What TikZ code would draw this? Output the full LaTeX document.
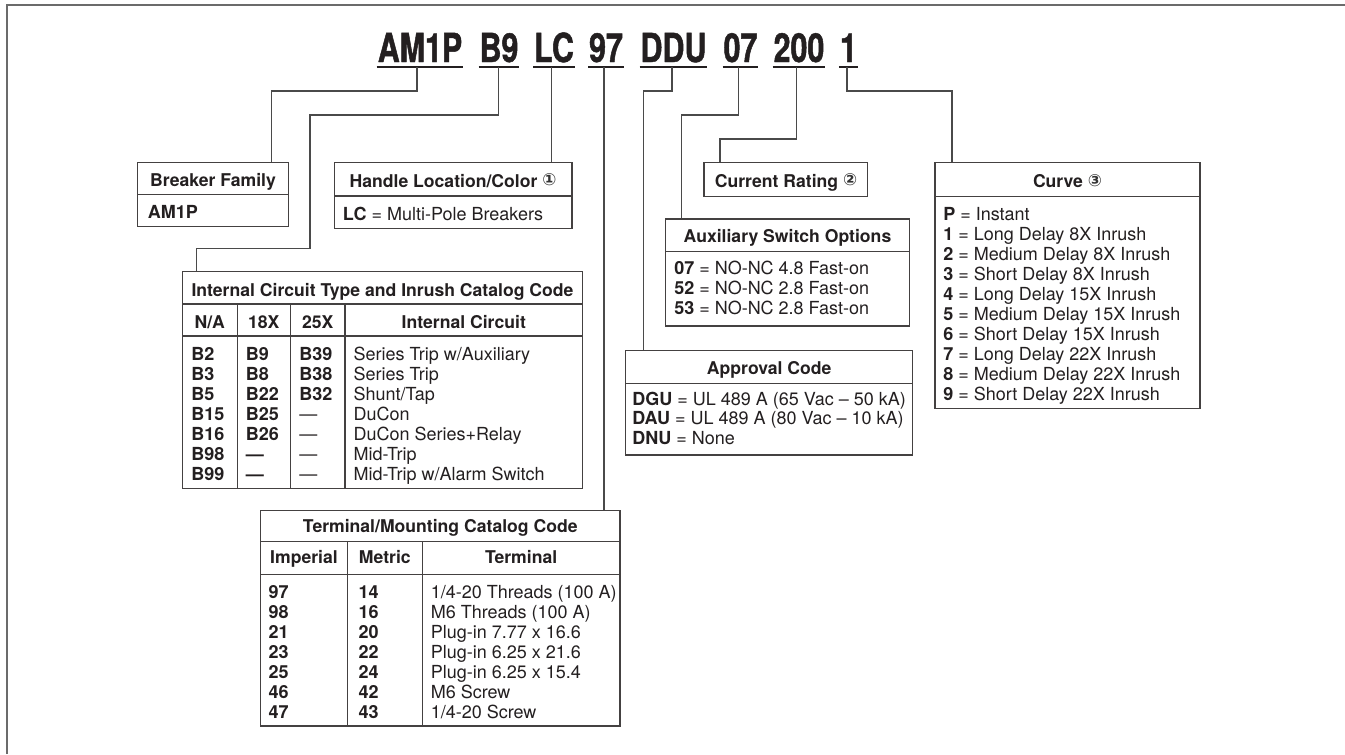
\documentclass[tikz,border=0pt]{standalone}
\usepackage{fontspec}
\setmainfont{TeX Gyre Heros}
\newfontfamily\circfont{DejaVu Sans}
\newfontface\codefont[FakeBold=1.2,FakeStretch=0.76]{texgyreheros-bold.otf}
\usetikzlibrary{fit}
\definecolor{ink}{HTML}{231F20}
\definecolor{linec}{HTML}{4A4A4A}
\definecolor{framec}{HTML}{6B6B6B}
\newcommand\circnum[1]{{\circfont\fontsize{12.5}{12.5}\selectfont\color{black!80}\raisebox{0.8pt}{#1}}}
\begin{document}
\begin{tikzpicture}[x=0.75pt,y=-0.75pt,
  boxn/.style={draw=ink!85, line width=1.1pt, inner sep=0pt},
  conn/.style={draw=linec, line width=1.1pt},
  uline/.style={draw=ink, line width=2.1pt},
  txt/.style={font=\fontsize{13.5}{15}\selectfont, text=ink, inner sep=0pt, anchor=base west},
  ttl/.style={font=\fontsize{13.2}{15}\selectfont\bfseries, text=ink, inner sep=0pt, anchor=base},
  code/.style={font=\codefont\fontsize{30}{30}\selectfont, text=ink, inner sep=0pt, anchor=base}]
\useasboundingbox (0,0) rectangle (1345,754);
% frame
\draw[draw=framec, line width=2pt] (7,754) -- (7,5) -- (1345,5);

% code
\node[code] (k1) at (420,62) {AM1P};
\node[code] (k2) at (499,62) {B9};
\node[code] (k3) at (554,62) {LC};
\node[code] (k4) at (606,62) {97};
\node[code] (k5) at (673.5,62) {DDU};
\node[code] (k6) at (740.5,62) {07};
\node[code] (k7) at (799,62) {200};
\node[code] (k8) at (848.5,62) {1};
\foreach \k in {1,...,8}{
  \draw[uline] ([yshift=-3.75pt,xshift=-0.6pt]k\k.base west) -- ([yshift=-3.75pt,xshift=0.6pt]k\k.base east);
}
\coordinate (u1) at (417,67);
\coordinate (u2) at (498.5,67);
\coordinate (u3) at (551.5,67);
\coordinate (u4) at (604,67);
\coordinate (u5) at (672,67);
\coordinate (u6) at (738.5,67);
\coordinate (u7) at (796.5,67);
\coordinate (u8) at (847,67);

% Breaker family
\node[boxn, fit={(137.7,162.3) (288.3,226.7)}] (bf) {};
\draw[boxn] (137.7,194.3) -- (288.3,194.3);
\node[ttl] (bft) at (213,186) {Breaker Family};
\node[txt] (bfb) at (147.7,218.5) {\textbf{AM1P}};

% Handle location
\node[boxn, fit={(334.3,162.5) (572,228.5)}] (hl) {};
\draw[boxn] (334.3,196) -- (572,196);
\node[ttl] (hlt) at (453,187) {Handle Location/Color \circnum{①}};
\node[txt] (hlb) at (342.7,220) {\textbf{LC} = Multi-Pole Breakers};

% Internal circuit table
\node[boxn, fit={(182.3,271.7) (582.7,488.3)}] (ic) {};
\draw[boxn] (182.3,304) -- (582.7,304);
\draw[boxn] (182.3,336) -- (582.7,336);
\foreach \x in {237.3,290.3,345} \draw[boxn] (\x,304) -- (\x,488.3);
\node[ttl] (ict) at (382.5,296.7) {Internal Circuit Type and Inrush Catalog Code};
\node[ttl] (ich1) at (209.8,328) {N/A};
\node[ttl] (ich2) at (263.8,328) {18X};
\node[ttl] (ich3) at (317.7,328) {25X};
\node[ttl] (ich4) at (463.8,328) {Internal Circuit};
\foreach \a/\b/\c/\d [count=\i from 0] in {
  B2/\textbf{B9}/\textbf{B39}/{Series Trip w/Auxiliary},
  B3/\textbf{B8}/\textbf{B38}/{Series Trip},
  B5/\textbf{B22}/\textbf{B32}/{Shunt/Tap},
  B15/\textbf{B25}/—/{DuCon},
  B16/\textbf{B26}/—/{DuCon Series+Relay},
  B98/\textbf{—}/—/{Mid-Trip},
  B99/\textbf{—}/—/{Mid-Trip w/Alarm Switch}}{
  \node[txt] (ica\i) at (191,{360+20*\i}) {\textbf{\a}};
  \node[txt] (icb\i) at (245.7,{360+20*\i}) {\b};
  \node[txt] (icc\i) at (299,{360+20*\i}) {\c};
  \node[txt] (icd\i) at (353.3,{360+20*\i}) {\d};
}

% Terminal table
\node[boxn, fit={(260.7,510.7) (620,726)}] (tm) {};
\draw[boxn] (260.7,541.7) -- (620,541.7);
\draw[boxn] (260.7,574.3) -- (620,574.3);
\foreach \x in {347.3,422.3} \draw[boxn] (\x,541.7) -- (\x,726);
\node[ttl] (tmt) at (440.3,532.5) {Terminal/Mounting Catalog Code};
\node[ttl] (tmh1) at (304,563) {Imperial};
\node[ttl] (tmh2) at (384.8,563) {Metric};
\node[ttl] (tmh3) at (521.1,563) {Terminal};
\foreach \a/\b/\c [count=\i from 0] in {
  97/14/{1/4-20 Threads (100 A)},
  98/16/{M6 Threads (100 A)},
  21/20/{Plug-in 7.77 x 16.6},
  23/22/{Plug-in 6.25 x 21.6},
  25/24/{Plug-in 6.25 x 15.4},
  46/42/{M6 Screw},
  47/43/{1/4-20 Screw}}{
  \node[txt] (tma\i) at (268.3,{598.3+20*\i}) {\textbf{\a}};
  \node[txt] (tmb\i) at (358.3,{598.3+20*\i}) {\textbf{\b}};
  \node[txt] (tmc\i) at (430.5,{598.3+20*\i}) {\c};
}

% Current rating
\node[boxn, fit={(704,162.3) (867.7,196.7)}] (cr) {};
\node[ttl] (crt) at (786,187) {Current Rating \circnum{②}};

% Auxiliary switch
\node[boxn, fit={(665.7,219) (909.3,326)}] (ax) {};
\draw[boxn] (665.7,251.7) -- (909.3,251.7);
\node[ttl] (axt) at (787.5,242) {Auxiliary Switch Options};
\foreach \a/\b [count=\i from 0] in {07/{NO-NC 4.8 Fast-on},52/{NO-NC 2.8 Fast-on},53/{NO-NC 2.8 Fast-on}}{
  \node[txt] (axb\i) at (674,{274+20*\i}) {\textbf{\a} = \b};
}

% Approval code
\node[boxn, fit={(625.7,350.7) (912.7,455)}] (ap) {};
\draw[boxn] (625.7,383.3) -- (912.7,383.3);
\node[ttl] (apt) at (769.2,374.5) {Approval Code};
\foreach \a/\b [count=\i from 0] in {DGU/{UL 489 A (65 Vac – 50 kA)},DAU/{UL 489 A (80 Vac – 10 kA)},DNU/{None}}{
  \node[txt] (apb\i) at (632,{405+19.5*\i}) {\textbf{\a} = \b};
}

% Curve
\node[boxn, fit={(935,162.3) (1200,408.3)}] (cv) {};
\draw[boxn] (935,196.7) -- (1200,196.7);
\node[ttl] (cvt) at (1067.5,187.3) {Curve \circnum{③}};
\foreach \a/\b [count=\i from 0] in {
  P/{Instant},
  1/{Long Delay 8X Inrush},
  2/{Medium Delay 8X Inrush},
  3/{Short Delay 8X Inrush},
  4/{Long Delay 15X Inrush},
  5/{Medium Delay 15X Inrush},
  6/{Short Delay 15X Inrush},
  7/{Long Delay 22X Inrush},
  8/{Medium Delay 22X Inrush},
  9/{Short Delay 22X Inrush}}{
  \node[txt] (cvb\i) at (943,{220+20*\i}) {\textbf{\a} = \b};
}

% connectors
\draw[conn] (u1) |- (271.7,91) -- (bf.north -| 271.7,91);
\draw[conn] (u2) |- (310,115) |- (196.7,248.3) -- (ic.north -| 196.7,248.3);
\draw[conn] (u3) -- (hl.north -| u3);
\draw[conn] (u4) -- (tm.north -| u4);
\draw[conn] (u5) |- (643.3,91) -- (ap.north -| 643.3,91);
\draw[conn] (u6) |- (681.7,115) -- (ax.north -| 681.7,115);
\draw[conn] (u7) |- (720,139) -- (cr.north -| 720,139);
\draw[conn] (u8) |- (952,91) -- (cv.north -| 952,91);
\end{tikzpicture}
\end{document}
